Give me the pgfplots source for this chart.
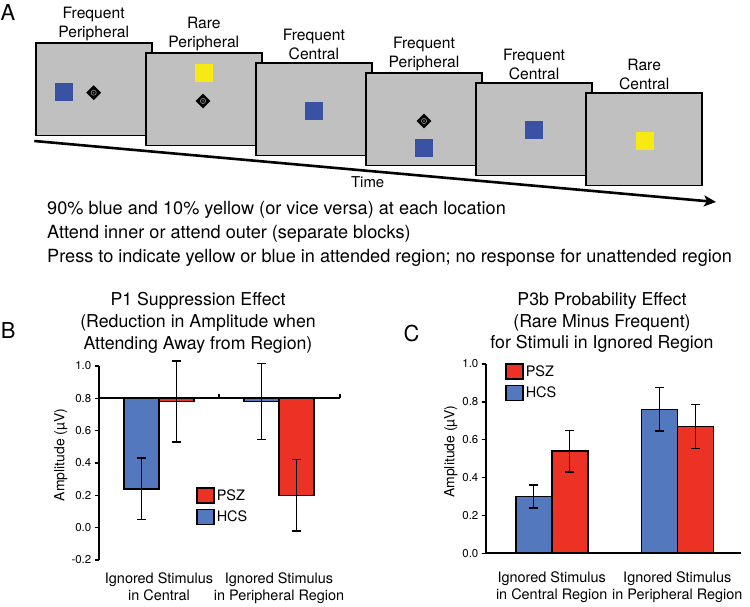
\documentclass[border=0pt]{standalone}
\usepackage{fontspec}
\setmainfont{TeX Gyre Heros}
\usepackage{pgfplots}
\usepackage{pgfplotstable}
\pgfplotsset{compat=1.18}
\usetikzlibrary{arrows.meta,shapes.geometric}
\definecolor{pszred}{RGB}{236,50,36}
\definecolor{hcsblue}{RGB}{84,120,190}
\definecolor{scrgray}{RGB}{192,192,192}
\definecolor{sqblue}{RGB}{58,82,163}
\definecolor{sqyellow}{RGB}{246,233,20}

% Panel B: P1 suppression effect (bars hang from 0.8)
\pgfplotstableread{
x y err
0 0.24 0.19
1 0.78 0.235
}\hcsB
\pgfplotstableread{
x y err
0 0.78 0.25
1 0.20 0.22
}\pszB
% Panel C: P3b probability effect
\pgfplotstableread{
x y err
0 0.30 0.06
1 0.76 0.115
}\hcsC
\pgfplotstableread{
x y err
0 0.54 0.11
1 0.67 0.115
}\pszC

\pgfplotsset{
  barpanel/.style={
    scale only axis, anchor=south west, clip=false,
    ybar, enlargelimits=false,
    tick align=outside,
    major tick length=4.5bp,
    ytick style={line width=1.5bp, black},
    xtick style={draw=none},
    yticklabel style={font=\fontsize{11.5}{13}\selectfont, inner sep=1bp, xshift=-2bp},
    xticklabel style={font=\fontsize{14.5}{17}\selectfont, align=center},
    ylabel={Amplitude (µV)},
    ylabel style={font=\fontsize{14}{16}\selectfont, anchor=center},
    /pgf/number format/assume math mode=true,
    legend image code/.code={\draw[##1, line width=1.6bp] (0bp,-7.5bp) rectangle (17bp,7.5bp);},
    legend style={draw=none, fill=none, inner sep=0pt, row sep=5bp,
      font=\fontsize{14.5}{16}\selectfont, anchor=north west},
    legend cell align=left,
  },
  errstyle/.style={
    error bars/y dir=both, error bars/y explicit,
    error bars/error bar style={line width=1.4bp, black},
    error bars/error mark options={line width=1.4bp, black, mark size=4.5bp, rotate=90}},
  pszbar/.style={fill=pszred, draw=black, line width=1.6bp, errstyle},
  hcsbar/.style={fill=hcsblue, draw=black, line width=1.6bp, errstyle},
}

\newcommand{\screen}[3]{% index, label line 1, label line 2
  \pgfmathsetmacro\L{35.7+110.1*#1}
  \pgfmathsetmacro\T{557-10*#1}
  \draw[fill=scrgray, line width=1.8bp] (\L,\T) rectangle ++(116,-92.5);
  \node[align=center, font=\fontsize{15.7}{19}\selectfont, inner sep=0pt] at (\L+58,\T+18.75) {#2\\#3};
}
\newcommand{\fixation}[2]{%
  \node[diamond, fill=black, minimum size=15bp, inner sep=0pt] at (#1,#2) {};
  \draw[scrgray!70!black, line width=0.7bp] (#1,#2) circle (2.6);
  \fill[scrgray!70!black] (#1,#2) circle (0.8);
}
\newcommand{\stim}[3]{\fill[#3] (#1-9,#2-9) rectangle (#1+9,#2+9);}

\begin{document}
\begin{tikzpicture}
\begin{scope}[x=1bp,y=1bp]
\path[use as bounding box] (0,0) rectangle (750,600);
% Panel A
\node[font=\fontsize{22}{24}\selectfont, inner sep=0pt] at (8,587) {A};
\draw[line width=2.6bp, -{Stealth[length=12bp,width=11bp,inset=3bp]}] (34.3,459) -- (716,398);
\screen{0}{Frequent}{Peripheral}
\screen{1}{Rare}{Peripheral}
\screen{2}{Frequent}{Central}
\screen{3}{Frequent}{Peripheral}
\screen{4}{Frequent}{Central}
\screen{5}{Rare}{Central}
\stim{63.8}{508}{sqblue}
\fixation{93.7}{507.3}
\stim{204}{527}{sqyellow}
\fixation{203}{499}
\stim{314}{489}{sqblue}
\fixation{424}{479}
\stim{424}{452}{sqblue}
\stim{534.3}{470.3}{sqblue}
\stim{644.7}{458.7}{sqyellow}
\node[font=\fontsize{15}{17}\selectfont, inner sep=0pt] at (367.7,418.3) {Time};
\node[font=\fontsize{18.2}{20}\selectfont, anchor=base west, inner sep=0pt] at (47,385.7) {90\% blue and 10\% yellow (or vice versa) at each location};
\node[font=\fontsize{18.2}{20}\selectfont, anchor=base west, inner sep=0pt] at (47,361.7) {Attend inner or attend outer (separate blocks)};
\node[font=\fontsize{18.2}{20}\selectfont, anchor=base west, inner sep=0pt] at (47,337.7) {Press to indicate yellow or blue in attended region; no response for unattended region};
% Panel letters and titles
\node[font=\fontsize{22}{24}\selectfont, inner sep=0pt] at (8.3,269.5) {B};
\node[font=\fontsize{22}{24}\selectfont, inner sep=0pt] at (411.5,266) {C};
\node[align=center, font=\fontsize{17.8}{22}\selectfont, inner sep=0pt] at (198,277.5) {P1 Suppression Effect\\(Reduction in Amplitude when\\Attending Away from Region)};
\node[align=center, font=\fontsize{17.8}{22}\selectfont, inner sep=0pt] at (602,277.5) {P3b Probability Effect\\(Rare Minus Frequent)\\for Stimuli in Ignored Region};
\end{scope}

% Panel B
\begin{axis}[barpanel,
  at={(99bp,40bp)}, width=241bp, height=194bp,
  xmin=-0.5, xmax=1.508, ymin=-1.0, ymax=0.2,
  bar width=35bp,
  y filter/.expression={y-0.8},
  separate axis lines,
  axis y line*=left, axis x line*=bottom,
  y axis line style={line width=1.8bp},
  x axis line style={draw=none},
  ytick={-1,-0.8,-0.6,-0.4,-0.2,0,0.2},
  yticklabels={-0.2,0.0,0.2,0.4,0.6,0.8,1.0},
  extra y ticks={0}, extra y tick labels={},
  extra y tick style={grid=major, major grid style={line width=1.8bp, black}},
  xtick={0,1},
  xticklabels={Ignored Stimulus\\in Central, Ignored Stimulus\\in Peripheral Region},
  xticklabel style={yshift=-4.5bp},
  ylabel style={at={(axis description cs:-0.158,0.541)}},
  legend style={at={(axis description cs:0.4025,0.376)}},
]
\addplot[pszbar, bar shift=17.5bp] table[x=x, y=y, y error=err] {\pszB};
\addlegendentry{PSZ}
\addplot[hcsbar, bar shift=-17.5bp] table[x=x, y=y, y error=err] {\hcsB};
\addlegendentry{HCS}
\draw[line width=1.5bp] (axis cs:0.5,0) -- (axis cs:0.5,0.028);
\draw[line width=1.5bp] (axis cs:1.508,0) -- (axis cs:1.508,0.028);
\end{axis}

% Panel C
\begin{axis}[barpanel,
  at={(486bp,46.7bp)}, width=255bp, height=189.3bp,
  xmin=-0.523, xmax=1.507, ymin=0, ymax=1,
  bar width=36bp,
  axis lines*=left,
  axis line style={line width=1.8bp},
  ytick={0,0.2,0.4,0.6,0.8,1.0},
  yticklabels={0.0,0.2,0.4,0.6,0.8,1.0},
  xtick={0,1},
  xticklabels={Ignored Stimulus\\in Central Region, Ignored Stimulus\\in Peripheral Region},
  xticklabel style={yshift=-10bp},
  ylabel style={at={(axis description cs:-0.138,0.537)}},
  legend style={at={(axis description cs:0.0745,1.005)}},
]
\addplot[pszbar, bar shift=18bp] table[x=x, y=y, y error=err] {\pszC};
\addlegendentry{PSZ}
\addplot[hcsbar, bar shift=-18bp] table[x=x, y=y, y error=err] {\hcsC};
\addlegendentry{HCS}
\end{axis}
\end{tikzpicture}
\end{document}
